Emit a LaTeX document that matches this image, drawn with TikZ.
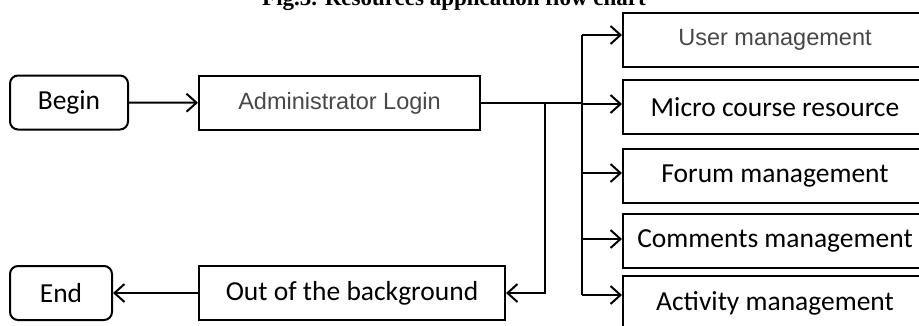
\documentclass[tikz,border=0pt]{standalone}
\usepackage{fontspec}
\setmainfont{Carlito}
\newfontfamily\arialfont{Liberation Sans}
\newfontfamily\timesfont{Liberation Serif}
\usepackage{tikz}
\usetikzlibrary{arrows.meta, positioning, calc}

\tikzset{
  box/.style={draw, line width=2pt, inner sep=0pt, minimum height=54pt,
              font=\fontsize{27.5}{32}\selectfont},
  endbox/.style={box, rounded corners=8pt},
  graytext/.style={text=black!72, font=\arialfont\fontsize{23.5}{27}\selectfont},
  arr/.style={line width=2pt, -{Straight Barb[length=10pt, width=18pt, line width=2pt]}},
  bus/.style={line width=2pt}
}

\begin{document}
\begin{tikzpicture}[x=1pt, y=-1pt]
\useasboundingbox (0,0) rectangle (919,325);

% Title (cut by the page)
\node[anchor=base, font=\timesfont\bfseries\fontsize{23}{27}\selectfont] (title) at (454,5.5) {Fig.3. Resources application flow chart};

% Left column
\node[endbox, minimum width=118pt] (begin) at (69,102.5) {Begin};
\node[box, graytext, minimum width=281pt] (admin) at (339.5,103) {Administrator Login};
\node[endbox, minimum width=102pt] (end) at (61,293) {End};
\node[box, minimum width=306pt] (out) at (352,293) {Out of the background};

% Right column
\node[box, graytext, minimum width=304pt] (user) at (775,40) {User management};
\node[box, minimum width=304pt] (micro) at (775,107) {Micro course resource};
\node[box, minimum width=304pt] (forum) at (775,176) {Forum management};
\node[box, minimum width=304pt] (comm) at (775,241) {Comments management};
\node[box, minimum width=304pt] (act) at (775,303) {Activity management};

\coordinate (bus) at (582,0);
\coordinate (split) at (545,0);

% Connectors
\draw[arr] (begin) -- (admin);
\draw[bus] (admin.east) -- (admin.east -| bus);
\draw[bus] ([yshift=5pt]user.west -| bus) -- ([yshift=8pt]act.west -| bus);
\foreach \b/\s in {user/5, micro/3, forum/3, comm/2, act/8}
  \draw[arr] ([yshift=\s pt]\b.west -| bus) -- ([yshift=\s pt]\b.west);
\draw[arr] (admin.east -| split) -- (out.east -| split) -- (out.east);
\draw[arr] (out) -- (end);
\end{tikzpicture}
\end{document}
